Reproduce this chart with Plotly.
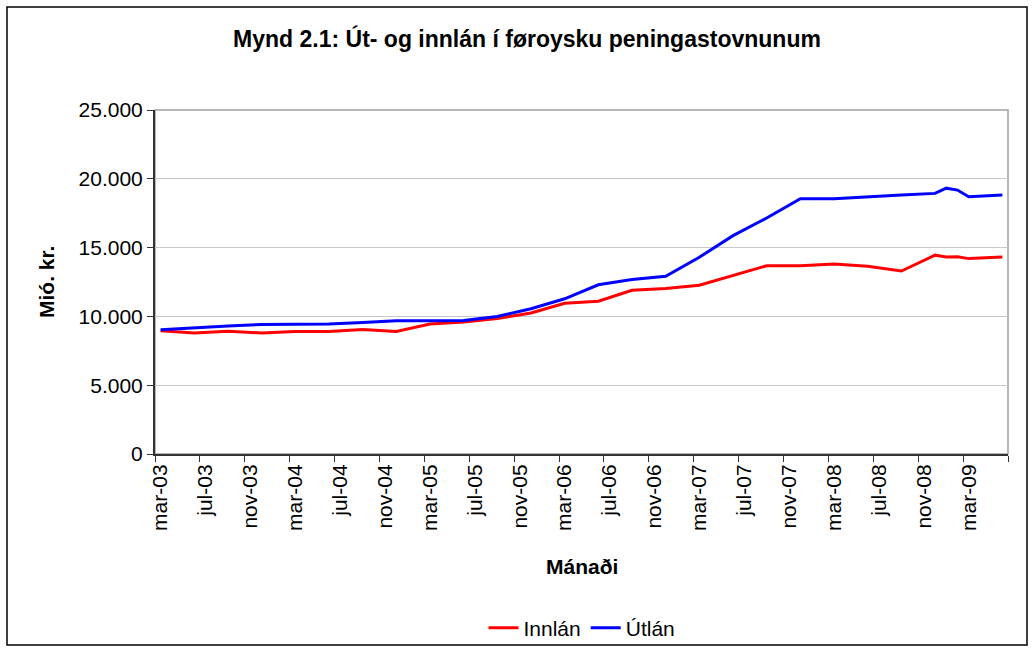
import plotly.graph_objects as go

# ---- data ----
months = ["2003-03", "2003-06", "2003-09", "2003-12",
          "2004-03", "2004-06", "2004-09", "2004-12",
          "2005-03", "2005-06", "2005-09", "2005-12",
          "2006-03", "2006-06", "2006-09", "2006-12",
          "2007-03", "2007-06", "2007-09", "2007-12",
          "2008-03", "2008-06", "2008-09", "2008-12",
          "2009-01", "2009-02", "2009-03", "2009-06"]

innlan = [8950, 8800, 8920, 8800,
          8900, 8900, 9050, 8900,
          9450, 9600, 9850, 10250,
          10950, 11100, 11900, 12030,
          12270, 12950, 13680, 13680,
          13800, 13650, 13300, 14450,
          14320, 14330, 14200, 14320]

utlan = [9030, 9180, 9300, 9420,
         9445, 9445, 9565, 9690,
         9690, 9710, 10000, 10560,
         11280, 12300, 12680, 12920,
         14300, 15870, 17150, 18550,
         18550, 18700, 18820, 18940,
         19320, 19180, 18700, 18820]

tick_labels = ["mar-03", "jul-03", "nov-03", "mar-04", "jul-04", "nov-04",
               "mar-05", "jul-05", "nov-05", "mar-06", "jul-06", "nov-06",
               "mar-07", "jul-07", "nov-07", "mar-08", "jul-08", "nov-08",
               "mar-09"]

first_month = "2003-03"
last_month = "2009-06"

# ---- helpers: month -> category index ----
def idx_from_iso(s):
    y, m = s.split("-")
    y0, m0 = first_month.split("-")
    return (int(y) - int(y0)) * 12 + (int(m) - int(m0))

abbr = {"jan": 1, "feb": 2, "mar": 3, "apr": 4, "mai": 5, "jun": 6,
        "jul": 7, "aug": 8, "sep": 9, "okt": 10, "nov": 11, "des": 12}

def idx_from_label(lbl):
    mo, yy = lbl.split("-")
    return idx_from_iso(f"{2000 + int(yy)}-{abbr[mo]:02d}")

x = [idx_from_iso(s) for s in months]
n_months = idx_from_iso(last_month) + 1
tickvals = [idx_from_label(t) for t in tick_labels]
minor_vals = [v - 0.5 for v in tickvals] + [n_months - 0.5]

FONT = "Arial, Liberation Sans, sans-serif"

fig = go.Figure()
fig.add_trace(go.Scatter(x=x, y=innlan, mode="lines", name="Innlán",
                         line=dict(color="#FF0000", width=3)))
fig.add_trace(go.Scatter(x=x, y=utlan, mode="lines", name="Útlán",
                         line=dict(color="#0000FF", width=3)))

W, H = 1034, 651
L, R, T, B = 155, 26, 110, 197
pw, ph = W - L - R, H - T - B

def px_x(p):
    return (p - L) / pw

def px_y(p):
    return (H - B - p) / ph

fig.update_layout(
    width=W, height=H,
    margin=dict(l=L, r=R, t=T, b=B, autoexpand=False),
    paper_bgcolor="white", plot_bgcolor="white",
    separators=",.",
    font=dict(family=FONT, size=21, color="black"),
    title=dict(text="<b>Mynd 2.1: Út- og innlán í føroysku peningastovnunum</b>",
               x=527 / W, xanchor="center", xref="container",
               y=1 - 39 / H, yanchor="middle", yref="container",
               font=dict(family=FONT, size=23, color="black")),
    showlegend=True,
    legend=dict(orientation="h", x=px_x(582), xanchor="center",
                y=px_y(628), yanchor="middle",
                font=dict(family=FONT, size=21, color="black"),
                bgcolor="rgba(0,0,0,0)", itemwidth=30,
                tracegroupgap=0),
    xaxis=dict(range=[-0.5, n_months - 0.5], showgrid=False, zeroline=False,
               tickmode="array", tickvals=tickvals, ticktext=tick_labels,
               tickangle=-90, ticks="", tickfont=dict(size=21, family=FONT),
               showline=True, linecolor="#333333", linewidth=2,
               minor=dict(tickmode="array", tickvals=minor_vals,
                          ticks="outside", ticklen=6, tickcolor="#333333",
                          tickwidth=1, showgrid=False)),
    yaxis=dict(range=[0, 25000], dtick=5000, tick0=0, tickformat=",d",
               showgrid=True, gridcolor="#c8c8c8", gridwidth=1,
               zeroline=False, showline=True, linecolor="#333333",
               linewidth=2, ticks="outside", ticklen=6, tickcolor="#333333",
               tickfont=dict(size=21, family=FONT)),
    annotations=[
        dict(text="<b>Mió. kr.</b>", textangle=-90, xref="paper", yref="paper",
             x=px_x(46), y=0.5, xanchor="center", yanchor="middle",
             showarrow=False, font=dict(family=FONT, size=21, color="black")),
        dict(text="<b>Mánaði</b>", xref="paper", yref="paper",
             x=0.5, y=px_y(566), xanchor="center", yanchor="middle",
             showarrow=False, font=dict(family=FONT, size=21, color="black")),
    ],
    shapes=[
        # plot area border (grey)
        dict(type="rect", xref="paper", yref="paper", x0=0, y0=0, x1=1, y1=1,
             line=dict(color="#a0a0a0", width=1.5), layer="below"),
        # outer chart frame (black)
        dict(type="rect", xref="paper", yref="paper",
             x0=px_x(7), x1=px_x(1027), y0=px_y(645), y1=px_y(7),
             line=dict(color="black", width=1.5)),
    ],
)

fig.write_html("out.html",
               config={"displayModeBar": False},
               post_script="document.body.style.margin='0';")
